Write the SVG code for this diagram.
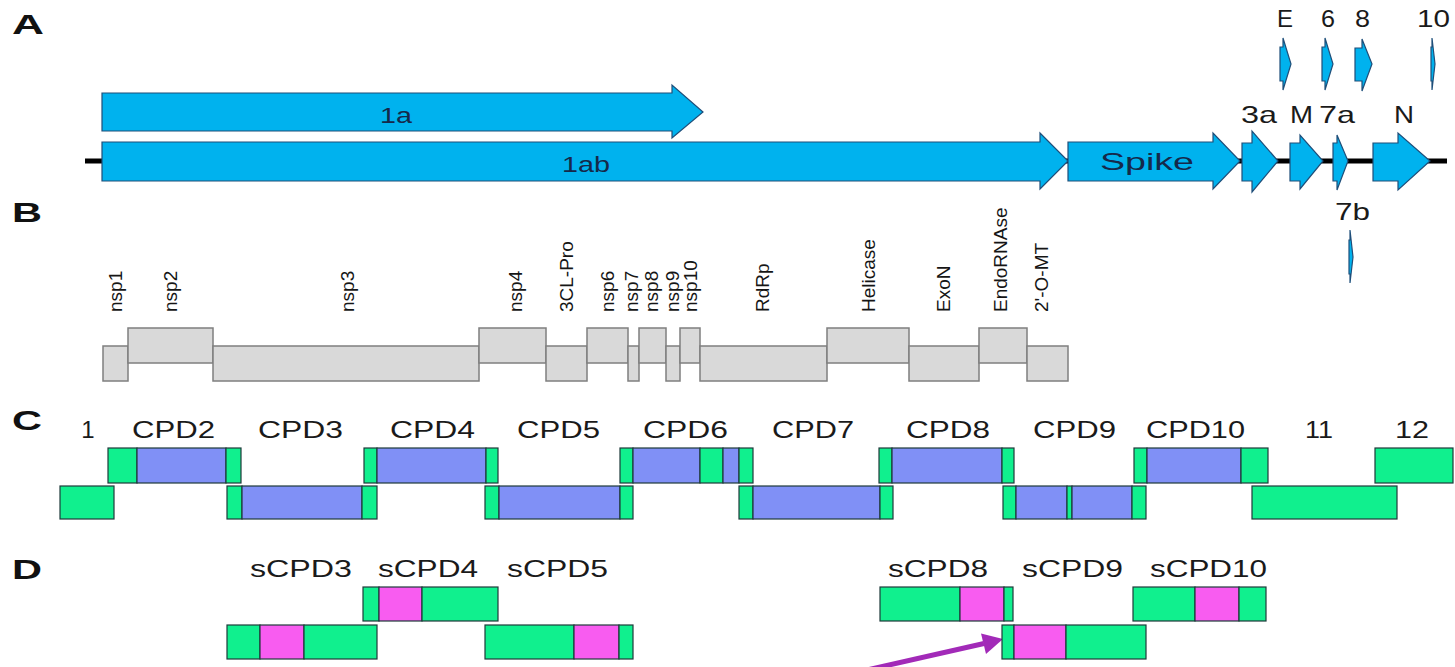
<svg xmlns="http://www.w3.org/2000/svg" width="1455" height="667" viewBox="0 0 1455 667">
<style>
text{font-family:"Liberation Sans",Arial,sans-serif;fill:#1a1a1a}
.t{font-size:24px}
.pl{font-size:28px;font-weight:bold;fill:#111}
.gl{font-size:22px;fill:#15294a}
.nl{font-size:19px;fill:#151515}
.gene{fill:#00b2ee;stroke:#1f4e79;stroke-width:1.2;stroke-linejoin:miter}
.nsp{fill:#d9d9d9;stroke:#7f7f7f;stroke-width:1.5}
.g{fill:#10f08e;stroke:#1e3a3a;stroke-width:1.2}
.b{fill:#8090f6;stroke:#1e3a3a;stroke-width:1.2}
.m{fill:#f85cf0;stroke:#1e3a3a;stroke-width:1.2}
</style>

<g id="panel-letters">
<text class="pl" x="12" y="34" textLength="32" lengthAdjust="spacingAndGlyphs">A</text>
<text class="pl" x="12" y="222" textLength="30" lengthAdjust="spacingAndGlyphs">B</text>
<text class="pl" x="12" y="430" textLength="30" lengthAdjust="spacingAndGlyphs">C</text>
<text class="pl" x="12" y="579" textLength="30" lengthAdjust="spacingAndGlyphs">D</text>
</g>

<g id="connectors">
<line id="genome-line" x1="85" y1="161" x2="1447" y2="161" stroke="#000" stroke-width="5"/>
<line id="pointer" x1="858" y1="672" x2="984" y2="643.5" stroke="#a22ab8" stroke-width="5"/>
<polygon points="1003,639 981,633.5 986,654" fill="#a22ab8"/>
</g>

<g id="gene-1a"><polygon class="gene" points="102,93 672,93 672,85 703,112 672,138 672,131 102,131"/>
<text class="gl" x="380" y="123" textLength="32" lengthAdjust="spacingAndGlyphs">1a</text></g>
<g id="gene-1ab"><polygon class="gene" points="102,142 1040,142 1040,133 1068,161 1040,189 1040,181 102,181"/>
<text class="gl" x="562" y="172" textLength="48" lengthAdjust="spacingAndGlyphs">1ab</text></g>
<g id="gene-spike"><polygon class="gene" points="1068,142 1213,142 1213,133 1240,161 1213,189 1213,181 1068,181"/>
<text class="t" x="1100" y="170" textLength="94" lengthAdjust="spacingAndGlyphs" style="fill:#15294a">Spike</text></g>
<g id="gene-3a"><polygon class="gene" points="1242,143 1252,143 1252,131 1278,161 1252,192 1252,181 1242,181"/>
<text class="t" x="1241" y="123" textLength="36" lengthAdjust="spacingAndGlyphs">3a</text></g>
<g id="gene-M"><polygon class="gene" points="1290,143 1300,143 1300,135 1323,161 1300,189 1300,181 1290,181"/>
<text class="t" x="1290" y="123" textLength="23" lengthAdjust="spacingAndGlyphs">M</text></g>
<g id="gene-7a"><polygon class="gene" points="1333,143 1337,143 1337,135 1348,161 1337,190 1337,181 1333,181"/>
<text class="t" x="1319" y="123" textLength="36" lengthAdjust="spacingAndGlyphs">7a</text></g>
<g id="gene-N"><polygon class="gene" points="1373,143 1398,143 1398,133 1430,161 1398,190 1398,181 1373,181"/>
<text class="t" x="1394" y="123" textLength="20" lengthAdjust="spacingAndGlyphs">N</text></g>
<g id="gene-E"><polygon class="gene" points="1280,47 1283,47 1283,38 1291,64 1283,90 1283,81 1280,81"/>
<text class="t" x="1277" y="27" textLength="16" lengthAdjust="spacingAndGlyphs">E</text></g>
<g id="gene-6"><polygon class="gene" points="1322,47 1325,47 1325,38 1333,64 1325,90 1325,81 1322,81"/>
<text class="t" x="1321" y="27" textLength="14" lengthAdjust="spacingAndGlyphs">6</text></g>
<g id="gene-8"><polygon class="gene" points="1355,48 1362,48 1362,39 1372,64 1362,91 1362,81 1355,81"/>
<text class="t" x="1355" y="27" textLength="15" lengthAdjust="spacingAndGlyphs">8</text></g>
<g id="gene-10"><polygon class="gene" points="1431,47 1432,47 1432,38 1435,64 1432,90 1432,81 1431,81"/>
<text class="t" x="1417" y="27" textLength="33" lengthAdjust="spacingAndGlyphs">10</text></g>
<g id="gene-7b"><polygon class="gene" points="1349,240 1350,240 1350,230 1353,257 1350,283 1350,274 1349,274"/>
<text class="t" x="1335" y="220" textLength="35" lengthAdjust="spacingAndGlyphs">7b</text></g>

<g id="nsp1"><rect class="nsp" x="103" y="346" width="25" height="35"/><text class="nl" transform="translate(116,312) rotate(-90)" y="6">nsp1</text></g>
<g id="nsp2"><rect class="nsp" x="128" y="328" width="85" height="35"/><text class="nl" transform="translate(171,312) rotate(-90)" y="6">nsp2</text></g>
<g id="nsp3"><rect class="nsp" x="213" y="346" width="266" height="35"/><text class="nl" transform="translate(348,312) rotate(-90)" y="6">nsp3</text></g>
<g id="nsp4"><rect class="nsp" x="479" y="328" width="67" height="35"/><text class="nl" transform="translate(516,312) rotate(-90)" y="6">nsp4</text></g>
<g id="nsp5-3CL-Pro"><rect class="nsp" x="546" y="346" width="41" height="35"/><text class="nl" transform="translate(567,312) rotate(-90)" y="6">3CL-Pro</text></g>
<g id="nsp6"><rect class="nsp" x="587" y="328" width="41" height="35"/><text class="nl" transform="translate(608,312) rotate(-90)" y="6">nsp6</text></g>
<g id="nsp7"><rect class="nsp" x="628" y="346" width="11" height="35"/><text class="nl" transform="translate(632,312) rotate(-90)" y="6">nsp7</text></g>
<g id="nsp8"><rect class="nsp" x="639" y="328" width="27" height="35"/><text class="nl" transform="translate(652,312) rotate(-90)" y="6">nsp8</text></g>
<g id="nsp9"><rect class="nsp" x="666" y="346" width="14" height="35"/><text class="nl" transform="translate(673,312) rotate(-90)" y="6">nsp9</text></g>
<g id="nsp10"><rect class="nsp" x="680" y="328" width="20" height="35"/><text class="nl" transform="translate(691,312) rotate(-90)" y="6">nsp10</text></g>
<g id="RdRp"><rect class="nsp" x="700" y="346" width="127" height="35"/><text class="nl" transform="translate(763,312) rotate(-90)" y="6">RdRp</text></g>
<g id="Helicase"><rect class="nsp" x="827" y="328" width="82" height="35"/><text class="nl" transform="translate(869,312) rotate(-90)" y="6">Helicase</text></g>
<g id="ExoN"><rect class="nsp" x="909" y="346" width="70" height="35"/><text class="nl" transform="translate(944,312) rotate(-90)" y="6">ExoN</text></g>
<g id="EndoRNAse"><rect class="nsp" x="979" y="328" width="48" height="35"/><text class="nl" transform="translate(1001,312) rotate(-90)" y="6">EndoRNAse</text></g>
<g id="OMT"><rect class="nsp" x="1027" y="346" width="41" height="35"/><text class="nl" transform="translate(1042,312) rotate(-90)" y="6">2'-O-MT</text></g>

<g id="CPD1"><rect class="g" x="60" y="486" width="54" height="33"/><text class="t" x="88" y="438" text-anchor="middle">1</text></g>
<g id="CPD2"><rect class="g" x="108" y="448" width="29" height="35"/><rect class="b" x="137" y="448" width="89" height="35"/><rect class="g" x="226" y="448" width="15" height="35"/>
<text class="t" x="132" y="438" textLength="83" lengthAdjust="spacingAndGlyphs">CPD2</text></g>
<g id="CPD3"><rect class="g" x="227" y="486" width="15" height="33"/><rect class="b" x="242" y="486" width="120" height="33"/><rect class="g" x="362" y="486" width="15" height="33"/>
<text class="t" x="258" y="438" textLength="85" lengthAdjust="spacingAndGlyphs">CPD3</text></g>
<g id="CPD4"><rect class="g" x="364" y="448" width="13" height="35"/><rect class="b" x="377" y="448" width="109" height="35"/><rect class="g" x="486" y="448" width="12" height="35"/>
<text class="t" x="390" y="438" textLength="85" lengthAdjust="spacingAndGlyphs">CPD4</text></g>
<g id="CPD5"><rect class="g" x="485" y="486" width="14" height="33"/><rect class="b" x="499" y="486" width="121" height="33"/><rect class="g" x="620" y="486" width="13" height="33"/>
<text class="t" x="517" y="438" textLength="83" lengthAdjust="spacingAndGlyphs">CPD5</text></g>
<g id="CPD6"><rect class="g" x="620" y="448" width="13" height="35"/><rect class="b" x="633" y="448" width="67" height="35"/><rect class="g" x="700" y="448" width="23" height="35"/><rect class="b" x="723" y="448" width="16" height="35"/><rect class="g" x="739" y="448" width="14" height="35"/>
<text class="t" x="643" y="438" textLength="85" lengthAdjust="spacingAndGlyphs">CPD6</text></g>
<g id="CPD7"><rect class="g" x="739" y="486" width="14" height="33"/><rect class="b" x="753" y="486" width="127" height="33"/><rect class="g" x="880" y="486" width="13" height="33"/>
<text class="t" x="772" y="438" textLength="82" lengthAdjust="spacingAndGlyphs">CPD7</text></g>
<g id="CPD8"><rect class="g" x="879" y="448" width="13" height="35"/><rect class="b" x="892" y="448" width="110" height="35"/><rect class="g" x="1002" y="448" width="12" height="35"/>
<text class="t" x="906" y="438" textLength="84" lengthAdjust="spacingAndGlyphs">CPD8</text></g>
<g id="CPD9"><rect class="g" x="1003" y="486" width="13" height="33"/><rect class="b" x="1016" y="486" width="51" height="33"/><rect class="g" x="1067" y="486" width="5" height="33"/><rect class="b" x="1072" y="486" width="60" height="33"/><rect class="g" x="1132" y="486" width="14" height="33"/>
<text class="t" x="1033" y="438" textLength="83" lengthAdjust="spacingAndGlyphs">CPD9</text></g>
<g id="CPD10"><rect class="g" x="1134" y="448" width="13" height="35"/><rect class="b" x="1147" y="448" width="94" height="35"/><rect class="g" x="1241" y="448" width="27" height="35"/>
<text class="t" x="1146" y="438" textLength="99" lengthAdjust="spacingAndGlyphs">CPD10</text></g>
<g id="CPD11"><rect class="g" x="1252" y="486" width="145" height="33"/><text class="t" x="1305" y="438" textLength="28" lengthAdjust="spacingAndGlyphs">11</text></g>
<g id="CPD12"><rect class="g" x="1375" y="448" width="78" height="35"/><text class="t" x="1395" y="438" textLength="34" lengthAdjust="spacingAndGlyphs">12</text></g>

<g id="sCPD3"><rect class="g" x="227" y="625" width="33" height="34"/><rect class="m" x="260" y="625" width="44" height="34"/><rect class="g" x="304" y="625" width="73" height="34"/>
<text class="t" x="250" y="577" textLength="102" lengthAdjust="spacingAndGlyphs">sCPD3</text></g>
<g id="sCPD4"><rect class="g" x="363" y="587" width="16" height="34"/><rect class="m" x="379" y="587" width="43" height="34"/><rect class="g" x="422" y="587" width="76" height="34"/>
<text class="t" x="378" y="577" textLength="100" lengthAdjust="spacingAndGlyphs">sCPD4</text></g>
<g id="sCPD5"><rect class="g" x="485" y="625" width="89" height="34"/><rect class="m" x="574" y="625" width="45" height="34"/><rect class="g" x="619" y="625" width="14" height="34"/>
<text class="t" x="507" y="577" textLength="101" lengthAdjust="spacingAndGlyphs">sCPD5</text></g>
<g id="sCPD8"><rect class="g" x="880" y="587" width="80" height="34"/><rect class="m" x="960" y="587" width="44" height="34"/><rect class="g" x="1004" y="587" width="9" height="34"/>
<text class="t" x="888" y="577" textLength="100" lengthAdjust="spacingAndGlyphs">sCPD8</text></g>
<g id="sCPD9"><rect class="g" x="1002" y="625" width="12" height="34"/><rect class="m" x="1014" y="625" width="52" height="34"/><rect class="g" x="1066" y="625" width="80" height="34"/>
<text class="t" x="1022" y="577" textLength="101" lengthAdjust="spacingAndGlyphs">sCPD9</text></g>
<g id="sCPD10"><rect class="g" x="1133" y="587" width="62" height="34"/><rect class="m" x="1195" y="587" width="44" height="34"/><rect class="g" x="1239" y="587" width="27" height="34"/>
<text class="t" x="1150" y="577" textLength="117" lengthAdjust="spacingAndGlyphs">sCPD10</text></g>
</svg>
